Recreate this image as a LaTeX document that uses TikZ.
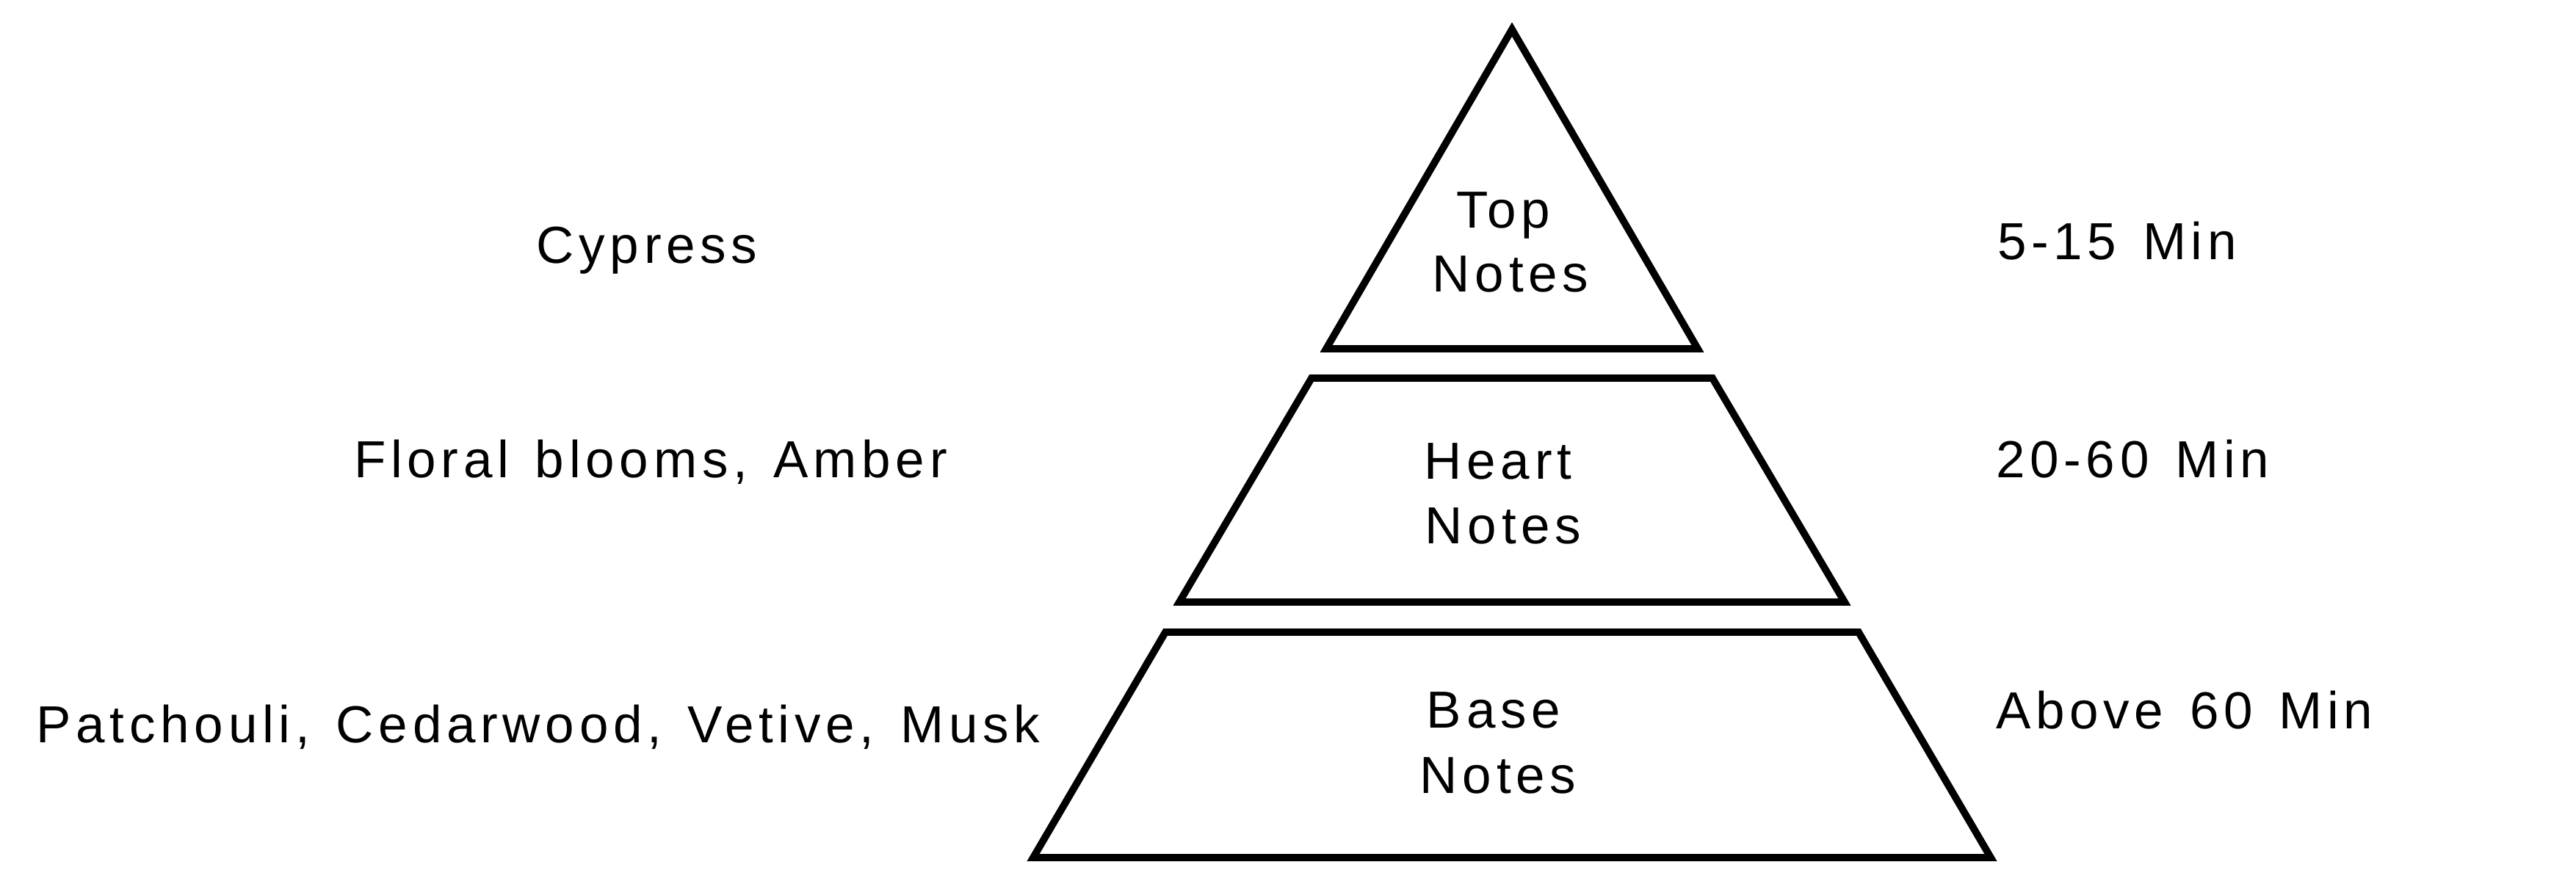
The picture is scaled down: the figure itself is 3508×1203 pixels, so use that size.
\documentclass[tikz,border=0pt]{standalone}
\usepackage{fontspec}
\setmainfont{Liberation Sans}[LetterSpace=9.5,WordSpace=1.35]
\begin{document}
\begin{tikzpicture}[x=0.25pt,y=-0.25pt,
  tier/.style={draw=black,line width=2.45pt,line join=miter},
  lbl/.style={inner sep=0pt,outer sep=0pt,anchor=base,font=\fontsize{17.75}{21.75}\selectfont},
  rlbl/.style={lbl,anchor=base west}]
\useasboundingbox (0,0) rectangle (3508,1203);
\fill[white] (0,0) rectangle (3508,1203);
% pyramid tiers
\draw[tier] (2059,40) -- (2312,475) -- (1806,475) -- cycle;
\draw[tier] (1786,515) -- (2332,515) -- (2512,820) -- (1606,820) -- cycle;
\draw[tier] (1587,861) -- (2531,861) -- (2711,1168) -- (1407,1168) -- cycle;
% tier labels
\node[lbl] (topa) at (2047,310) {Top};
\node[lbl] (topb) at (2057,397) {Notes};
\node[lbl] (hearta) at (2040,652) {Heart};
\node[lbl] (heartb) at (2047,740) {Notes};
\node[lbl] (basea) at (2034,991) {Base};
\node[lbl] (baseb) at (2040,1080) {Notes};
% left notes
\node[lbl] (ltop) at (881,358) {Cypress};
\node[lbl] (lheart) at (886,650) {Floral blooms, Amber};
\node[lbl] (lbase) at (733,1011) {Patchouli, Cedarwood, Vetive, Musk};
% right durations
\node[rlbl] (rtop) at (2720,353) {5-15 Min};
\node[rlbl] (rheart) at (2718,650) {20-60 Min};
\node[rlbl] (rbase) at (2718,992) {Above 60 Min};
\end{tikzpicture}
\end{document}
